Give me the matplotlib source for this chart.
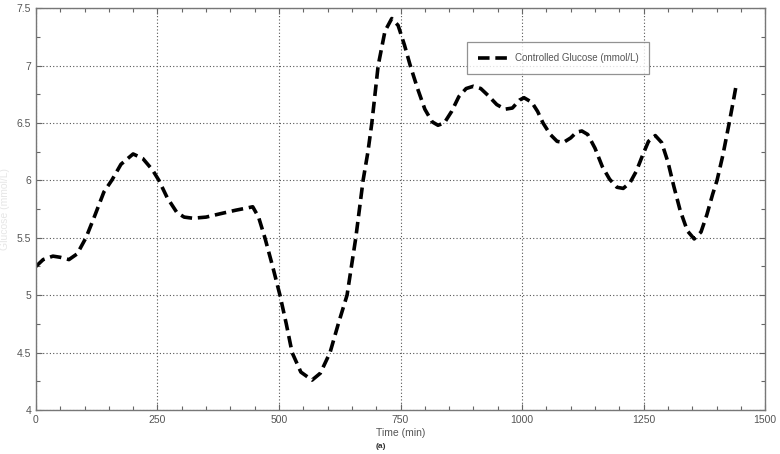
import numpy as np
from matplotlib import pyplot as plt
from matplotlib.ticker import MultipleLocator

# values
time_min = [0, 15, 35, 50, 68, 85, 103, 120, 140, 156, 175, 200, 220, 240, 253,
            270, 290, 305, 323, 350, 380, 411, 435, 446, 458, 471, 487, 502, 515,
            527, 545, 568, 585, 605, 622, 640, 658, 673, 683, 691, 704, 718, 732,
            745, 758, 770, 785, 800, 815, 827, 840, 855, 870, 885, 900, 915, 930,
            948, 965, 980, 995, 1004, 1020, 1032, 1043, 1058, 1072, 1085, 1100,
            1112, 1123, 1135, 1150, 1165, 1180, 1195, 1208, 1222, 1235, 1248, 1260,
            1274, 1287, 1300, 1312, 1325, 1340, 1354, 1368, 1380, 1392, 1401, 1413,
            1426, 1434, 1440]
glucose = [5.25, 5.31, 5.34, 5.33, 5.31, 5.36, 5.50, 5.68, 5.90, 6.00, 6.14, 6.23,
           6.19, 6.09, 6.00, 5.85, 5.72, 5.68, 5.67, 5.68, 5.71, 5.74, 5.76, 5.77,
           5.68, 5.50, 5.25, 5.00, 4.75, 4.50, 4.33, 4.26, 4.32, 4.50, 4.75, 5.00,
           5.50, 6.00, 6.25, 6.50, 7.00, 7.30, 7.41, 7.35, 7.18, 7.00, 6.80, 6.62,
           6.51, 6.48, 6.50, 6.60, 6.73, 6.80, 6.82, 6.80, 6.74, 6.66, 6.62, 6.63,
           6.70, 6.72, 6.68, 6.60, 6.50, 6.40, 6.34, 6.33, 6.37, 6.42, 6.43, 6.40,
           6.28, 6.12, 6.01, 5.94, 5.93, 5.98, 6.08, 6.22, 6.34, 6.39, 6.33, 6.16,
           5.95, 5.74, 5.56, 5.49, 5.55, 5.70, 5.88, 6.00, 6.22, 6.50, 6.68, 6.82]

xticks = [0, 250, 500, 750, 1000, 1250, 1500]
yticks = [4, 4.5, 5, 5.5, 6, 6.5, 7, 7.5]
ytick_labels = ['4', '4.5', '5', '5.5', '6', '6.5', '7', '7.5']

plt.rcParams['font.family'] = ['Liberation Sans', 'DejaVu Sans']
txt = '#555555'

fig = plt.figure(figsize=(7.8, 4.54), dpi=100)
ax = fig.add_axes([0.046, 0.097, 0.935, 0.885])

ax.plot(time_min, glucose, color='black', lw=2.6, linestyle=(0, (3.2, 1.6)),
        solid_joinstyle='round', dash_joinstyle='round',
        label='Controlled Glucose (mmol/L)')

ax.set_xlim(0, 1500)
ax.set_ylim(4, 7.5)
ax.set_xticks(xticks)
ax.set_yticks(yticks)
ax.set_yticklabels(ytick_labels)
ax.xaxis.set_minor_locator(MultipleLocator(50))
ax.yaxis.set_minor_locator(MultipleLocator(0.25))
ax.tick_params(which='both', direction='in', top=True, right=True,
               colors='#666666', labelcolor=txt, labelsize=7.5)
ax.tick_params(which='major', length=4, width=0.8)
ax.tick_params(which='minor', length=3, width=0.8)
for s in ax.spines.values():
    s.set_color('#777777')
    s.set_linewidth(1.0)

ax.grid(True, which='major', linestyle=(0, (1, 2)), color='#555555', lw=0.8)

ax.set_xlabel('Time (min)', fontsize=7.5, color=txt, labelpad=2)
# the y label is almost washed out in the reference
ax.set_ylabel('Glucose (mmol/L)', fontsize=7.5, color='#e6e6e6')
ax.yaxis.set_label_coords(-0.036, 0.5)
fig.text(0.488, 0.017, '(a)', fontsize=6, fontweight='bold', color='#333333',
         ha='center', va='center')

leg = ax.legend(loc='upper left', bbox_to_anchor=(0.5915, 0.915), fontsize=7,
                frameon=True, fancybox=False, borderpad=1.1, handlelength=3.2,
                handletextpad=0.6, borderaxespad=0)
leg.get_frame().set_edgecolor('#777777')
leg.get_frame().set_linewidth(0.9)
for t in leg.get_texts():
    t.set_color(txt)

fig.savefig('out.png', dpi=100)
